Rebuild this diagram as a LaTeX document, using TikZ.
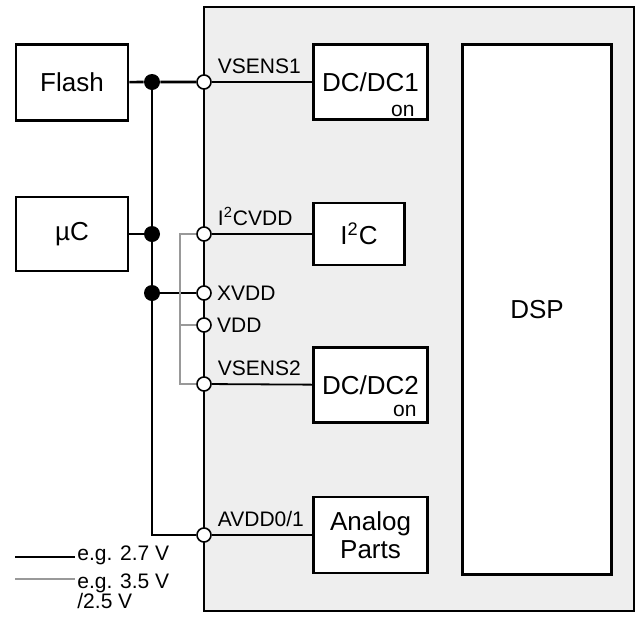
\documentclass[tikz,border=0pt]{standalone}
\usepackage{fontspec}
\setmainfont{Liberation Sans}
\usepackage{tikz}
\usetikzlibrary{positioning,calc}
\definecolor{chipcol}{HTML}{EEEEEE}
\definecolor{railcol}{HTML}{999999}

\begin{document}
\begin{tikzpicture}[x=0.5pt,y=-0.5pt,
   blk/.style={draw,line width=1.35pt,fill=white,inner sep=0pt,align=center,
              font=\fontsize{13}{14}\selectfont},
   pin/.style={circle,draw,fill=white,line width=0.8pt,minimum size=7pt,inner sep=0pt},
   dot/.style={circle,fill=black,minimum size=8pt,inner sep=0pt},
   plbl/.style={font=\fontsize{10.5}{10.5}\selectfont,inner sep=1pt},
   bus/.style={line width=1.35pt},
   wire/.style={line width=0.9pt},
   rail/.style={line width=1.1pt,draw=railcol},
]
\useasboundingbox (0,0) rectangle (642,616);

% chip outline
\draw[line width=1.35pt,fill=chipcol] (204,7) rectangle (634,611);

% external parts
\node[blk,minimum width=56pt,minimum height=38pt] (flash) at (72,82.5) {Flash};
\node[blk,minimum width=56pt,minimum height=37pt] (uc)    at (72,234)  {µC};

% internal blocks
\node[blk,minimum width=57pt,minimum height=37.5pt] (dc1)  at (370.5,82)  {DC/DC1};
\node[blk,minimum width=45.5pt,minimum height=31pt] (i2c)  at (359,234)   {I\textsuperscript{2}C};
\node[blk,minimum width=57pt,minimum height=37.5pt] (dc2)  at (370.5,385) {DC/DC2};
\node[blk,minimum width=57pt,minimum height=38pt]   (ana)  at (370.5,535) {Analog\\Parts};
\node[blk,minimum width=74.5pt,minimum height=265pt] (dsp) at (537,309.5) {DSP};
\node[plbl,anchor=south east] (on1) at ($(dc1.south east)+(-12,-2)$) {on};
\node[plbl,anchor=south east] (on2) at ($(dc2.south east)+(-10,-5)$) {on};

% supply pins
\node[pin] (vs1)  at (204,82)  {};
\node[pin] (i2cv) at (204,234) {};
\node[pin] (xv)   at (204,293) {};
\node[pin] (vdd)  at (204,325) {};
\node[pin] (vs2)  at (204,384) {};
\node[pin] (av)   at (204,535) {};
\node[plbl,above right=0pt and 3pt of vs1]  {VSENS1};
\node[plbl,above right=0pt and 3pt of i2cv] {I\textsuperscript{2}CVDD};
\node[plbl,right=1.5pt of xv]  {XVDD};
\node[plbl,right=1.5pt of vdd] {VDD};
\node[plbl,above right=0pt and 3pt of vs2]  {VSENS2};
\node[plbl,above right=0pt and 3pt of av]   {AVDD0/1};

% black supply net
\node[dot] (d1) at (152,82)  {};
\node[dot] (d2) at (152,234) {};
\node[dot] (d3) at (152,293) {};
\coordinate (cb) at (152,535);
\draw[bus] (flash) -- (d1) -- (vs1);
\draw[bus] (uc) -- (d2);
\draw[bus] (d1) -- (d2) -- (d3) -- (cb) -- (av);
\draw[bus] (d3) -- (xv);

% grey supply net
\coordinate (rt) at (180,234);
\coordinate (rm) at (180,325);
\coordinate (rb) at (180,384);
\draw[rail] (i2cv) -- (rt) -- (rb) -- (vs2);
\draw[rail] (rm) -- (vdd);

% pins to blocks
\draw[wire] (vs1)  -- (dc1);
\draw[wire] (i2cv) -- (i2c);
\draw[wire] (vs2)  -- (dc2);
\draw[wire] (av)   -- (ana);

% legend
\coordinate (k1) at (15,557);
\coordinate (k2) at (15,579);
\node[plbl,anchor=base west] (leg1) at (75,560) {e.g. 2.7 V};
\node[plbl,anchor=base west] (leg2) at (75,588) {e.g. 3.5 V};
\node[plbl,anchor=base west] (leg3) at (75,608) {/2.5 V};
\draw[bus] (k1) -- (leg1.west |- k1);
\draw[rail] (k2) -- (leg2.west |- k2);
\end{tikzpicture}
\end{document}
